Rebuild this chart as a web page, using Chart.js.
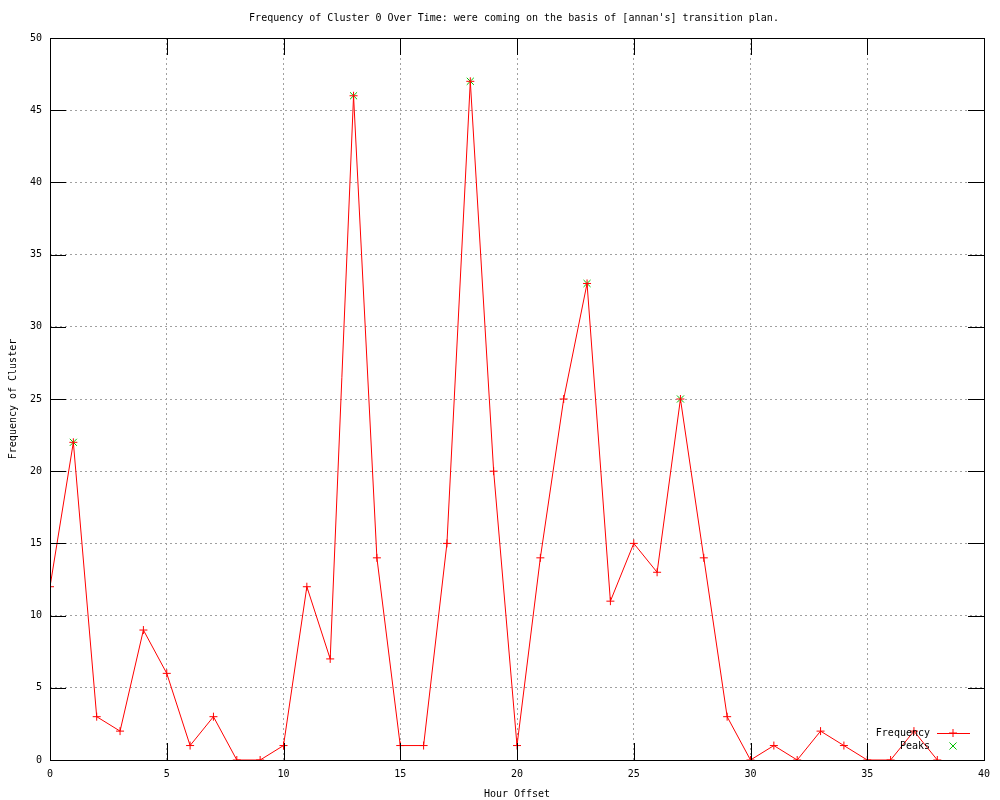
<!DOCTYPE html>
<html>
<head>
<meta charset="utf-8">
<script src="https://cdn.jsdelivr.net/npm/chart.js@4/dist/chart.umd.min.js"></script>
<style>
  html, body { margin: 0; padding: 0; background: #fff; }
  #wrap { width: 1000px; height: 800px; }
</style>
</head>
<body>
<div id="wrap"><canvas id="cluster" width="1000" height="800"></canvas></div>
<script>
// Frequency of cluster 0 per hour
var hours = [0, 1, 2, 3, 4, 5, 6, 7, 8, 9, 10, 11, 12, 13, 14, 15, 16, 17, 18, 19,
             20, 21, 22, 23, 24, 25, 26, 27, 28, 29, 30, 31, 32, 33, 34, 35, 36, 37, 38];
var frequency = [12, 22, 3, 2, 9, 6, 1, 3, 0, 0, 1, 12, 7, 46, 14, 1, 1, 15, 47, 20,
                 1, 14, 25, 33, 11, 15, 13, 25, 14, 3, 0, 1, 0, 2, 1, 0, 0, 2, 0];

// Peaks picked out in green
var peakHours = [1, 13, 18, 23, 27];
var peakValues = [22, 46, 47, 33, 25];

var xTicks = [0, 5, 10, 15, 20, 25, 30, 35, 40];
var yTicks = [0, 5, 10, 15, 20, 25, 30, 35, 40, 45, 50];

var titleText = "Frequency of Cluster 0 Over Time: were coming on the basis of [annan's] transition plan.";
var FONT = '10px "DejaVu Sans Mono", "Liberation Mono", monospace';

function toPoints(xs, ys) {
    return xs.map(function(x, i) { return { x: x, y: ys[i] }; });
}

// gnuplot look: frame, inward ticks, title, legend inside bottom right
var gnuplotDeco = {
    id: 'gnuplotDeco',
    afterDraw: function(chart) {
        var ctx = chart.ctx;
        var a = chart.chartArea;
        var xs = chart.scales.x, ys = chart.scales.y;
        ctx.save();
        ctx.strokeStyle = '#000';
        ctx.lineWidth = 1;

        // inward tick marks on all four sides
        ctx.beginPath();
        xTicks.forEach(function(v) {
            var px = Math.round(xs.getPixelForValue(v)) + 0.5;
            ctx.moveTo(px, a.bottom); ctx.lineTo(px, a.bottom - 17);
            ctx.moveTo(px, a.top); ctx.lineTo(px, a.top + 17);
        });
        yTicks.forEach(function(v) {
            var py = Math.round(ys.getPixelForValue(v)) + 0.5;
            ctx.moveTo(a.left, py); ctx.lineTo(a.left + 16, py);
            ctx.moveTo(a.right, py); ctx.lineTo(a.right - 16, py);
        });
        ctx.stroke();

        // frame
        ctx.strokeRect(Math.round(a.left) + 0.5, Math.round(a.top) + 0.5,
                       Math.round(a.right - a.left), Math.round(a.bottom - a.top));

        // title
        ctx.font = FONT;
        ctx.fillStyle = '#000';
        ctx.textAlign = 'center';
        ctx.textBaseline = 'middle';
        ctx.fillText(titleText, (a.left + a.right) / 2 - 3, 18);

        // legend
        var lx = a.right - 54, ly = a.bottom - 27;
        ctx.textAlign = 'right';
        ctx.fillText('Frequency', lx, ly);
        ctx.fillText('Peaks', lx, ly + 13);
        ctx.strokeStyle = '#ff0000';
        ctx.beginPath();
        ctx.moveTo(lx + 7, Math.round(ly) + 0.5);
        ctx.lineTo(lx + 40, Math.round(ly) + 0.5);
        ctx.stroke();
        Chart.helpers.drawPoint(ctx, { pointStyle: 'cross', radius: 4, borderWidth: 1 }, lx + 23, ly);
        ctx.strokeStyle = '#00c000';
        Chart.helpers.drawPoint(ctx, { pointStyle: 'crossRot', radius: 5, borderWidth: 1 }, lx + 23, ly + 13);
        ctx.restore();
    }
};

var ctx = document.getElementById('cluster').getContext('2d');
var clusterChart = new Chart(ctx, {
    type: 'scatter',
    data: {
        datasets: [{
            label: 'Frequency',
            data: toPoints(hours, frequency),
            showLine: true,
            borderColor: '#ff0000',
            backgroundColor: '#ff0000',
            borderWidth: 1,
            pointStyle: 'cross',
            pointRadius: 4,
            pointBorderWidth: 1,
            tension: 0
        }, {
            label: 'Peaks',
            data: toPoints(peakHours, peakValues),
            showLine: false,
            borderColor: '#00c000',
            backgroundColor: '#00c000',
            pointStyle: 'crossRot',
            pointRadius: 5,
            pointBorderWidth: 1
        }]
    },
    options: {
        responsive: false,
        animation: false,
        events: [],
        layout: { padding: { top: 38, right: 16, left: 0, bottom: 0 } },
        plugins: {
            legend: { display: false },
            title: { display: false },
            tooltip: { enabled: false }
        },
        scales: {
            x: {
                type: 'linear',
                min: 0,
                max: 40,
                afterFit: function(scale) { scale.height = 40; },
                afterBuildTicks: function(scale) {
                    scale.ticks = xTicks.map(function(v) { return { value: v }; });
                },
                ticks: {
                    padding: 8,
                    maxRotation: 0,
                    color: '#000',
                    font: { family: '"DejaVu Sans Mono", monospace', size: 10 }
                },
                grid: { color: '#a0a0a0', drawTicks: false, lineWidth: 1 },
                border: { display: false, dash: [2, 3] },
                title: {
                    display: true,
                    text: 'Hour Offset',
                    color: '#000',
                    padding: { top: 0, bottom: 0 },
                    font: { family: '"DejaVu Sans Mono", monospace', size: 10 }
                }
            },
            y: {
                min: 0,
                max: 50,
                afterFit: function(scale) { scale.width = 50; },
                afterBuildTicks: function(scale) {
                    scale.ticks = yTicks.map(function(v) { return { value: v }; });
                },
                ticks: {
                    padding: 8,
                    color: '#000',
                    font: { family: '"DejaVu Sans Mono", monospace', size: 10 }
                },
                grid: { color: '#a0a0a0', drawTicks: false, lineWidth: 1 },
                border: { display: false, dash: [2, 3] },
                title: {
                    display: true,
                    text: 'Frequency of Cluster',
                    color: '#000',
                    padding: { top: 7, bottom: 0 },
                    font: { family: '"DejaVu Sans Mono", monospace', size: 10 }
                }
            }
        }
    },
    plugins: [gnuplotDeco]
});
</script>
</body>
</html>
